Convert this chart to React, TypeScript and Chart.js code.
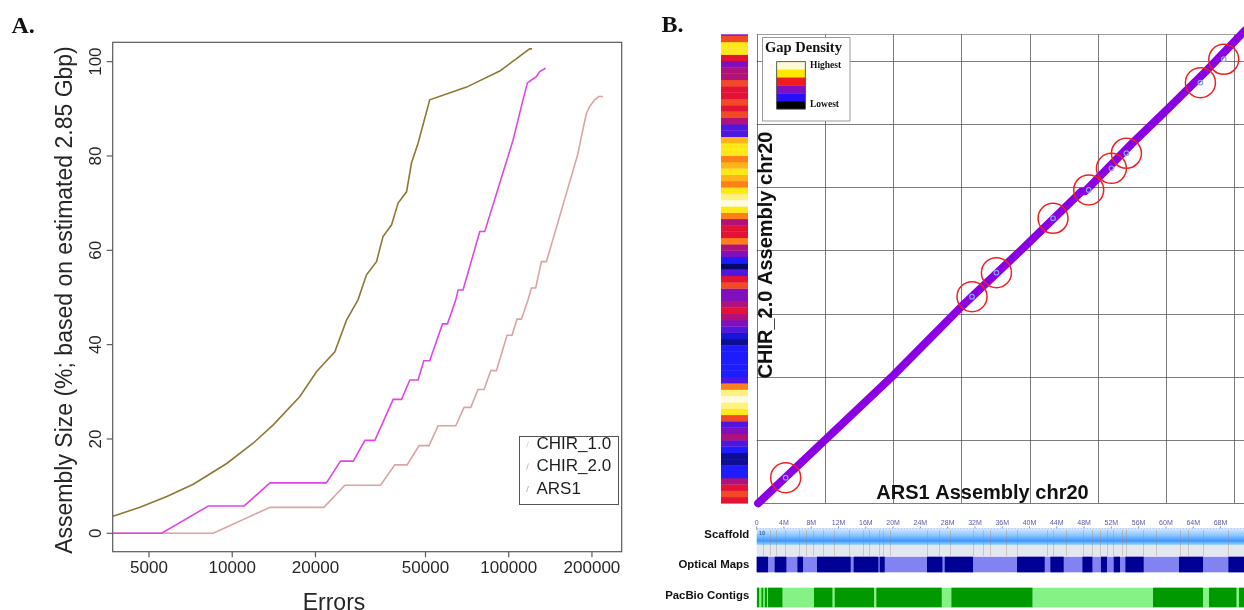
import React, { useEffect, useRef } from "react";
import { Chart, registerables } from "chart.js";

Chart.register(...registerables);

// ---------------- Panel A data ----------------
const seriesNames = ["CHIR_1.0", "CHIR_2.0", "ARS1"];
const xTicksA = [5000, 10000, 20000, 50000, 100000, 200000];
const yTicksA = [0, 20, 40, 60, 80, 100];
const xTitleA = "Errors";
const yTitleA = "Assembly Size (%; based on estimated 2.85 Gbp)";

const chir1X = [3700, 8540, 13700, 21450, 25540, 34380, 38730, 42900, 47400, 51500, 55550, 64350, 68950, 72900, 77450, 81450, 86100, 90300, 98600, 102800, 107150, 111150, 117450, 120800, 125150, 131300, 136850, 178000, 183150, 190900, 196250, 204600, 211500, 219200];
const chir1Y = [0, 0, 5.5, 5.5, 10.2, 10.2, 14.5, 14.5, 18.6, 18.6, 22.8, 22.8, 26.7, 26.7, 30.5, 30.5, 34.5, 34.5, 42, 42, 45.4, 45.4, 49.5, 52, 52, 57.6, 57.6, 80.5, 84.1, 89, 90.5, 91.9, 92.6, 92.6];

const chir2X = [3700, 5555, 8190, 11050, 13700, 21900, 24650, 27400, 30200, 32800, 38200, 40950, 43900, 47000, 49300, 51800, 57600, 60050, 64350, 65600, 68350, 78600, 81900, 103700, 108000, 112600, 116800, 120800, 125900, 129400, 136000];
const chir2Y = [0, 0, 5.8, 5.8, 10.7, 10.7, 15.3, 15.3, 19.7, 19.7, 28.4, 28.4, 32.5, 32.5, 36.6, 36.6, 44.4, 44.4, 49.5, 51.6, 51.6, 64, 64, 83.4, 87.6, 91.9, 95.5, 96.1, 96.8, 97.9, 98.6];

const ars1X = [3700, 4640, 5800, 7230, 9550, 11900, 14070, 17570, 20200, 23500, 25900, 28500, 30600, 33250, 35100, 37700, 39800, 42700, 44500, 47000, 51800, 70400, 92800, 119000, 121500];
const ars1Y = [3.6, 5.5, 7.8, 10.4, 14.8, 19.1, 23.0, 29.0, 34.3, 38.5, 45.2, 49.5, 54.8, 57.6, 62.9, 65.4, 70.0, 72.4, 78.5, 82.7, 91.9, 94.6, 98.0, 102.7, 102.7];

const xRangeA = [3696, 256200];
const yRangeA = [-3.9, 104.1];

// ---------------- Panel B data ----------------
const xTitleB = "ARS1 Assembly chr20";
const yTitleB = "CHIR_2.0 Assembly chr20";
const gridMb = [0, 10, 20, 30, 40, 50, 60, 70];
const dotXMax = 71.45;
const dotYMax = 74.2;

const alignX = [0.2, 10, 20, 30, 39, 47.6, 48.2, 55, 60.1, 66, 71.6];
const alignY = [0, 10, 20.2, 31.1, 40.3, 49.3, 49.4, 56.9, 62.2, 68.5, 74.8];

const circleX = [4.25, 31.57, 35.15, 43.45, 48.68, 52.01, 54.21, 65.06, 68.48];
const circleY = [4.05, 32.69, 36.49, 45.09, 49.57, 53.0, 55.38, 66.55, 70.25];

// gap density per 1-Mb bin of CHIR_2.0 chr20 (0 = lowest ... 6 = highest)
const gapDensity = [3, 3.5, 3, 2.5, 1, 1, 0.5, 0.5, 1, 1.5, 2.5, 2, 1.5, 3.5, 5, 5.5, 6, 5.5, 4, 1.5, 1, 1, 1, 1, 1, 0.5, 0.8, 1.5, 2, 2.5, 3, 2.5, 2, 2, 3.5, 3, 1.5, 0.3, 1, 2, 2.5, 4, 3, 3, 2.5, 4, 5, 6, 5.5, 5, 4, 4.5, 5, 4.5, 4, 5, 5, 4.5, 1.5, 1.5, 2.5, 3.5, 3, 3.5, 3, 3, 3.5, 2.5, 2.5, 2, 3, 5, 5, 3.5, 2];
const densityTitle = "Gap Density";
const densityLabels = ["Highest", "Lowest"];
const densityLegendColors = ["#fffbd2", "#ffe800", "#f01c1c", "#8010c0", "#2410ff", "#000000"];

const trackNames = ["Scaffold", "Optical Maps", "PacBio Contigs"];
const trackTicks = [0, 4, 8, 12, 16, 20, 24, 28, 32, 36, 40, 44, 48, 52, 56, 60, 64, 68];
const trackTickLabels = ["0", "4M", "8M", "12M", "16M", "20M", "24M", "28M", "32M", "36M", "40M", "44M", "48M", "52M", "56M", "60M", "64M", "68M"];
const scaffoldName = "10";
const scaffoldGaps = [0.93, 2.0, 2.79, 4.1, 6.2, 7.3, 8.2, 9.7, 11.4, 13.6, 15.6, 16.4, 17.9, 18.5, 19.5, 24.9, 26.8, 28.3, 31.7, 33.2, 34.2, 36.6, 38.2, 42.5, 43.4, 45.4, 47.8, 49.2, 50.3, 51.3, 52.2, 53.5, 54.2, 56.6, 58.6, 62.0, 63.2, 65.4, 69.1];
const opticalStart = [0, 2.64, 5.97, 8.84, 14.22, 18.04, 24.97, 27.57, 38.17, 43.06, 47.76, 50.48, 52.35, 54.06, 61.92, 69.16];
const opticalEnd = [1.66, 4.35, 6.79, 13.78, 17.84, 18.77, 27.23, 31.72, 42.23, 45.01, 49.22, 51.36, 53.27, 56.74, 65.44, 72];
const pacbioStart = [0.05, 0.7, 1.2, 1.66, 8.4, 11.44, 17.55, 28.55, 58.11, 66.32, 70.72];
const pacbioEnd = [0.35, 0.95, 1.5, 3.77, 11.1, 17.2, 27.13, 40.43, 65.44, 70.34, 72];

// ---------------- helpers ----------------
const SANS = '"Liberation Sans", Arial, sans-serif';
const SERIF = '"Liberation Serif", "Times New Roman", serif';
const B_OFF = 640; // page x of panel B canvas

const RAMP = [
  [0, 0, 40],
  [28, 28, 255],
  [128, 16, 190],
  [228, 18, 52],
  [255, 128, 24],
  [255, 232, 24],
  [255, 252, 228],
];
function rampColor(v: number) {
  const i = Math.max(0, Math.min(RAMP.length - 2, Math.floor(v)));
  const f = Math.max(0, Math.min(1, v - i));
  const a = RAMP[i];
  const b = RAMP[i + 1];
  const c = [0, 1, 2].map((k) => Math.round(a[k] + (b[k] - a[k]) * f));
  return `rgb(${c[0]},${c[1]},${c[2]})`;
}

const COLORS = { chir1: "#dba3a3", chir2: "#e046e6", ars1: "#8c7934" };

const panelAPlugin = {
  id: "panelA",
  afterDraw(chart: any) {
    const ctx = chart.ctx;
    const { left, top, right, bottom } = chart.chartArea;
    const xs = chart.scales.x;
    const ys = chart.scales.y;
    ctx.save();
    ctx.strokeStyle = "#5a5a5a";
    ctx.lineWidth = 1.2;
    ctx.strokeRect(left, top, right - left, bottom - top);
    ctx.fillStyle = "#262626";
    ctx.font = `17px ${SANS}`;
    ctx.textAlign = "center";
    ctx.textBaseline = "middle";
    xTicksA.forEach((v) => {
      const px = xs.getPixelForValue(v);
      ctx.beginPath();
      ctx.moveTo(px, bottom);
      ctx.lineTo(px, bottom + 5.5);
      ctx.stroke();
      ctx.fillText(String(v), px, 568);
    });
    yTicksA.forEach((v) => {
      const py = ys.getPixelForValue(v);
      ctx.beginPath();
      ctx.moveTo(left, py);
      ctx.lineTo(left - 6, py);
      ctx.stroke();
      ctx.save();
      ctx.translate(96, py);
      ctx.rotate(-Math.PI / 2);
      ctx.fillText(String(v), 0, 0);
      ctx.restore();
    });
    ctx.font = `23px ${SANS}`;
    ctx.textBaseline = "alphabetic";
    ctx.save();
    ctx.translate(71.5, 300);
    ctx.rotate(-Math.PI / 2);
    ctx.fillText(yTitleA, 0, 0);
    ctx.restore();
    ctx.fillText(xTitleA, 334, 610);

    // legend
    ctx.strokeStyle = "#555";
    ctx.lineWidth = 1;
    ctx.fillStyle = "#fff";
    ctx.fillRect(519.5, 436.5, 99, 68);
    ctx.strokeRect(519.5, 436.5, 99, 68);
    const legCols = [COLORS.chir1, COLORS.chir2, COLORS.ars1];
    const rows = [444.5, 466.5, 489];
    ctx.font = `17px ${SANS}`;
    ctx.textAlign = "left";
    ctx.textBaseline = "middle";
    seriesNames.forEach((n, i) => {
      ctx.save();
      ctx.globalAlpha = 0.55;
      ctx.strokeStyle = legCols[i];
      ctx.beginPath();
      ctx.moveTo(526.5, rows[i] + 3);
      ctx.lineTo(528.5, rows[i] - 3);
      ctx.stroke();
      ctx.restore();
      ctx.fillStyle = "#1e1e1e";
      ctx.fillText(n, 536.5, rows[i]);
    });

    ctx.fillStyle = "#111";
    ctx.font = `bold 24px ${SERIF}`;
    ctx.textAlign = "left";
    ctx.textBaseline = "alphabetic";
    ctx.fillText("A.", 11.5, 33.3);
    ctx.restore();
  },
};

const panelBPlugin = {
  id: "panelB",
  beforeDatasetsDraw(chart: any) {
    const ctx = chart.ctx;
    const { left, top, right, bottom } = chart.chartArea;
    const xs = chart.scales.x;
    const ys = chart.scales.y;
    ctx.save();
    ctx.strokeStyle = "rgba(80,80,80,0.75)";
    ctx.lineWidth = 1;
    gridMb.forEach((v) => {
      const px = Math.round(xs.getPixelForValue(v)) + 0.5;
      ctx.beginPath();
      ctx.moveTo(px, top);
      ctx.lineTo(px, bottom);
      ctx.stroke();
      const py = Math.round(ys.getPixelForValue(v)) + 0.5;
      ctx.beginPath();
      ctx.moveTo(left, py);
      ctx.lineTo(right, py);
      ctx.stroke();
    });
    ctx.strokeStyle = "rgba(120,120,120,0.7)";
    ctx.beginPath();
    ctx.moveTo(left, Math.round(top) + 0.5);
    ctx.lineTo(right, Math.round(top) + 0.5);
    ctx.stroke();
    ctx.restore();
  },
  afterDraw(chart: any) {
    const ctx = chart.ctx;
    const { right } = chart.chartArea;
    const xs = chart.scales.x;
    const ys = chart.scales.y;
    const X = (p: number) => p - B_OFF;
    ctx.save();

    // heat strip
    gapDensity.forEach((v, i) => {
      const y0 = ys.getPixelForValue(i);
      const y1 = ys.getPixelForValue(Math.min(i + 1, dotYMax));
      ctx.fillStyle = rampColor(v);
      ctx.fillRect(X(721), y1, 27, y0 - y1 + 0.3);
    });

    // gap density legend
    ctx.fillStyle = "#fff";
    ctx.fillRect(X(762.5), 37.5, 87.5, 83.5);
    ctx.strokeStyle = "#9a9a9a";
    ctx.lineWidth = 1;
    ctx.strokeRect(X(762.5), 37.5, 87.5, 83.5);
    const sw = (109 - 61.7) / densityLegendColors.length;
    densityLegendColors.forEach((c, i) => {
      ctx.fillStyle = c;
      ctx.fillRect(X(776.7), 61.7 + i * sw, 28.6, sw + 0.2);
    });
    ctx.strokeStyle = "#333";
    ctx.lineWidth = 0.8;
    ctx.strokeRect(X(776.7), 61.7, 28.6, 109 - 61.7);
    ctx.fillStyle = "#111";
    ctx.font = `bold 14.5px ${SERIF}`;
    ctx.textAlign = "left";
    ctx.textBaseline = "alphabetic";
    ctx.fillText(densityTitle, X(765), 52.3);
    ctx.font = `bold 9.5px ${SERIF}`;
    ctx.textBaseline = "middle";
    ctx.fillText(densityLabels[0], X(810), 65.3);
    ctx.fillText(densityLabels[1], X(810), 104.5);

    // axis titles
    ctx.fillStyle = "#111";
    ctx.font = `bold 20px ${SANS}`;
    ctx.textAlign = "center";
    ctx.textBaseline = "alphabetic";
    ctx.fillText(xTitleB, X(982.5), 498.5);
    ctx.save();
    ctx.translate(X(771.5), 255);
    ctx.rotate(-Math.PI / 2);
    ctx.fillText(yTitleB, 0, 0);
    ctx.restore();

    // tracks
    const x0 = xs.getPixelForValue(0);
    const w = right - x0;
    ctx.font = `7px ${SANS}`;
    ctx.fillStyle = "#5a5aa6";
    ctx.strokeStyle = "#7070b0";
    ctx.lineWidth = 0.8;
    ctx.textAlign = "center";
    ctx.textBaseline = "middle";
    trackTicks.forEach((t, i) => {
      const px = xs.getPixelForValue(t);
      ctx.fillText(trackTickLabels[i], px, 523);
      ctx.beginPath();
      ctx.moveTo(px, 526.5);
      ctx.lineTo(px, 530);
      ctx.stroke();
    });
    // scaffold band
    const g = ctx.createLinearGradient(0, 528.3, 0, 545);
    g.addColorStop(0, "#d8ecff");
    g.addColorStop(0.45, "#86c2ff");
    g.addColorStop(0.75, "#3c98ff");
    g.addColorStop(1, "#a8d4ff");
    ctx.fillStyle = g;
    ctx.fillRect(x0, 528.3, w, 16.7);
    ctx.fillStyle = "#e3e8ee";
    ctx.fillRect(x0, 545, w, 11);
    ctx.save();
    ctx.setLineDash([1, 2]);
    ctx.strokeStyle = "#8da0d0";
    ctx.beginPath();
    ctx.moveTo(x0, 528.5);
    ctx.lineTo(right, 528.5);
    ctx.stroke();
    ctx.restore();
    ctx.strokeStyle = "rgba(160,130,110,0.35)";
    ctx.lineWidth = 1;
    scaffoldGaps.forEach((gp) => {
      const px = Math.round(xs.getPixelForValue(gp)) + 0.5;
      ctx.beginPath();
      ctx.moveTo(px, 530);
      ctx.lineTo(px, 556);
      ctx.stroke();
    });
    ctx.fillStyle = "#2a4a9a";
    ctx.font = `6px ${SANS}`;
    ctx.textAlign = "left";
    ctx.fillText(scaffoldName, x0 + 2, 533.5);

    // optical maps
    ctx.fillStyle = "#8282f2";
    ctx.fillRect(x0, 556.7, w, 15.6);
    ctx.fillStyle = "#000094";
    opticalStart.forEach((s, i) => {
      const a = xs.getPixelForValue(s);
      const b = xs.getPixelForValue(opticalEnd[i]);
      ctx.fillRect(a, 556.7, b - a, 15.6);
    });
    // pacbio contigs
    ctx.fillStyle = "#84f284";
    ctx.fillRect(x0, 587.7, w, 19.6);
    ctx.fillStyle = "#009a00";
    pacbioStart.forEach((s, i) => {
      const a = xs.getPixelForValue(s);
      const b = xs.getPixelForValue(pacbioEnd[i]);
      ctx.fillRect(a, 587.7, b - a, 19.6);
    });

    // track labels
    ctx.fillStyle = "#111";
    ctx.font = `bold 11.4px ${SANS}`;
    ctx.textAlign = "right";
    ctx.textBaseline = "middle";
    ctx.fillText(trackNames[0], X(749.3), 535);
    ctx.fillText(trackNames[1], X(749.3), 564.5);
    ctx.fillText(trackNames[2], X(749.3), 596);

    // panel label
    ctx.font = `bold 24px ${SERIF}`;
    ctx.textAlign = "left";
    ctx.textBaseline = "alphabetic";
    ctx.fillText("B.", X(661.5), 32.3);
    ctx.restore();
  },
};

function pts(xs: number[], ys: number[]) {
  return xs.map((x, i) => ({ x, y: ys[i] }));
}

export default function App() {
  const refA = useRef<HTMLCanvasElement>(null);
  const refB = useRef<HTMLCanvasElement>(null);

  useEffect(() => {
    const common = {
      animation: false as const,
      responsive: false,
      devicePixelRatio: 1,
      events: [] as any[],
      plugins: { legend: { display: false }, tooltip: { enabled: false } },
    };
    const chartA = new Chart(refA.current as HTMLCanvasElement, {
      type: "scatter",
      data: {
        datasets: [
          { label: seriesNames[1], data: pts(chir2X, chir2Y), showLine: true, borderColor: COLORS.chir2, borderWidth: 1.6, pointRadius: 0, order: 1 },
          { label: seriesNames[0], data: pts(chir1X, chir1Y), showLine: true, borderColor: COLORS.chir1, borderWidth: 1.6, pointRadius: 0, order: 2 },
          { label: seriesNames[2], data: pts(ars1X, ars1Y), showLine: true, borderColor: COLORS.ars1, borderWidth: 1.6, pointRadius: 0, order: 3 },
        ],
      },
      options: {
        ...common,
        layout: { autoPadding: false, padding: { left: 112.7, top: 42.3, right: 18.3, bottom: 58.3 } },
        scales: {
          x: { type: "logarithmic", min: xRangeA[0], max: xRangeA[1], display: false },
          y: { type: "linear", min: yRangeA[0], max: yRangeA[1], display: false },
        },
      } as any,
      plugins: [panelAPlugin],
    });

    const chartB = new Chart(refB.current as HTMLCanvasElement, {
      type: "scatter",
      data: {
        datasets: [
          { label: "breaks", data: pts(circleX, circleY), pointRadius: 15, pointBorderColor: "#ee2020", pointBorderWidth: 1.5, pointBackgroundColor: "rgba(0,0,0,0)", order: 1 },
          { label: "marks", data: pts(circleX, circleY), pointRadius: 2.3, pointBorderColor: "#86a0ff", pointBorderWidth: 1.2, pointBackgroundColor: "rgba(0,0,0,0)", order: 2 },
          { label: "alignment", data: pts(alignX, alignY), showLine: true, borderColor: "#8a00e2", borderWidth: 8, pointRadius: 0, borderCapStyle: "round", borderJoinStyle: "round", clip: false, order: 3 },
        ],
      },
      options: {
        ...common,
        layout: { autoPadding: false, padding: { left: 116.7, top: 34.3, right: 0, bottom: 106.7 } },
        scales: {
          x: { type: "linear", min: 0, max: dotXMax, display: false },
          y: { type: "linear", min: 0, max: dotYMax, display: false },
        },
      } as any,
      plugins: [panelBPlugin],
    });

    return () => {
      chartA.destroy();
      chartB.destroy();
    };
  }, []);

  return (
    <div style={{ position: "absolute", left: 0, top: 0, width: 1244, height: 610, overflow: "hidden", background: "#fff" }}>
      <canvas ref={refA} width={640} height={610} style={{ position: "absolute", left: 0, top: 0, width: 640, height: 610 }} />
      <canvas ref={refB} width={604} height={610} style={{ position: "absolute", left: B_OFF, top: 0, width: 604, height: 610 }} />
    </div>
  );
}
